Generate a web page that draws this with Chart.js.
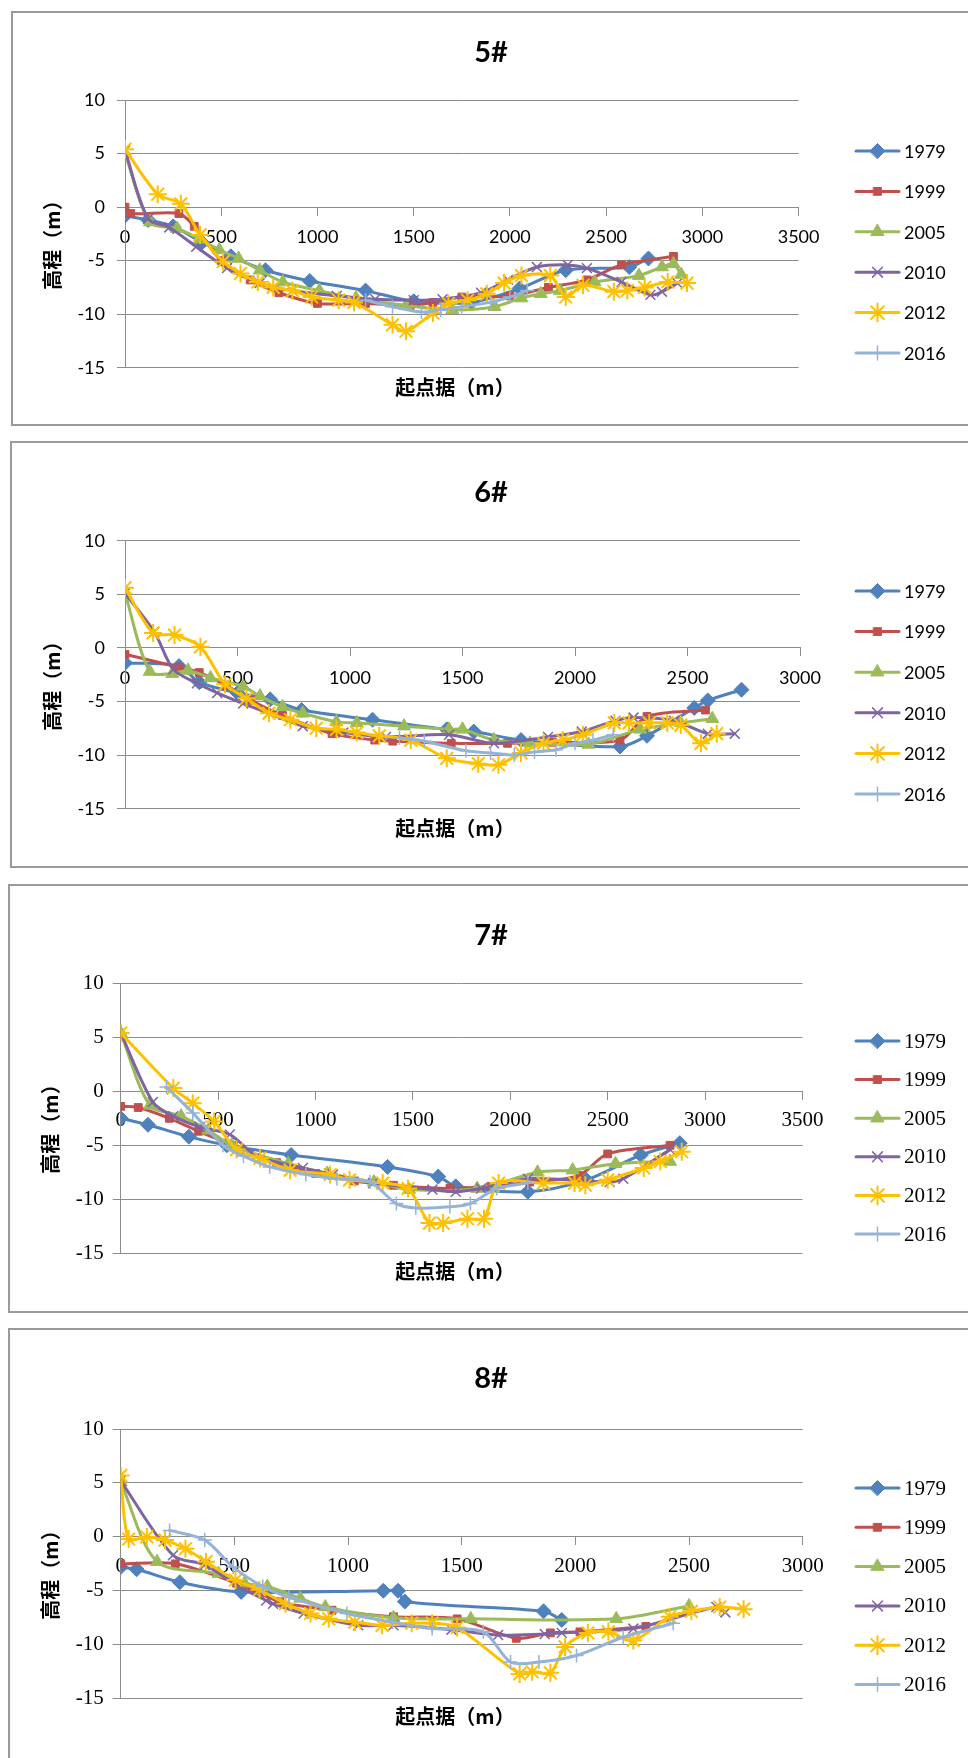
<!DOCTYPE html>
<html><head><meta charset="utf-8">
<script src="https://cdn.jsdelivr.net/npm/chart.js@4.4.1/dist/chart.umd.min.js"></script>
<style>
html,body{margin:0;padding:0;background:#fff;width:968px;height:1758px;overflow:hidden;position:relative}
.box{position:absolute;border:2px solid #9a9a9a;box-sizing:border-box;background:#fff}
canvas{position:absolute;left:0}
</style></head><body>
<script>
// ---------- DATA ----------
const years = ['1979','1999','2005','2010','2012','2016'];
const sections = ['5#','6#','7#','8#'];
const yTickValues = [10, 5, 0, -5, -10, -15];
const xTickStep = 500;
const xMaxBySection = [3500, 3000, 3500, 3000];
const yAxisTitle = '高程（m）';
const xAxisTitle = '起点据（m）';

// 5#
const s5_1979 = [[0,-0.8],[120,-1.2],[250,-1.8],[400,-3.3],[550,-4.6],[730,-5.9],[960,-6.9],[1250,-7.8],[1500,-8.8],[1800,-8.9],[2050,-7.6],[2290,-5.9],[2620,-5.6],[2720,-4.8]];
const s5_1999 = [[0,0],[30,-0.6],[280,-0.6],[360,-1.8],[500,-5.0],[650,-6.8],[800,-8.0],[1000,-9.0],[1250,-9.0],[1480,-9.2],[1600,-8.9],[1750,-8.4],[2000,-8.3],[2200,-7.5],[2400,-6.8],[2580,-5.4],[2850,-4.6]];
const s5_2005 = [[0,5.0],[130,-1.4],[270,-2.0],[390,-3.0],[490,-4.0],[590,-4.8],[700,-5.9],[820,-7.0],[1010,-7.8],[1200,-8.5],[1460,-9.2],[1700,-9.6],[1920,-9.3],[2060,-8.5],[2160,-8.1],[2260,-7.8],[2440,-7.0],[2670,-6.4],[2790,-5.6],[2850,-5.3],[2890,-6.3]];
const s5_2010 = [[0,5.3],[120,-1.1],[230,-1.9],[370,-3.7],[530,-5.7],[700,-7.1],[870,-7.8],[1100,-8.3],[1300,-8.6],[1500,-8.7],[1650,-8.6],[1850,-8.0],[1990,-6.8],[2140,-5.6],[2300,-5.4],[2400,-5.7],[2580,-7.0],[2730,-8.2],[2790,-7.9],[2870,-7.1]];
const s5_2012 = [[0,5.4],[170,1.2],[290,0.3],[390,-2.6],[510,-5.1],[600,-6.2],[690,-7.0],[770,-7.5],[870,-7.8],[970,-8.4],[1110,-8.7],[1190,-8.9],[1390,-11.0],[1460,-11.6],[1600,-9.9],[1680,-9.0],[1780,-8.7],[1880,-8.1],[1970,-7.1],[2060,-6.4],[2210,-6.4],[2290,-8.4],[2380,-7.3],[2540,-7.9],[2610,-7.8],[2700,-7.5],[2820,-7.0],[2920,-7.1]];
const s5_2016 = [[1250,-8.7],[1390,-9.3],[1540,-9.8],[1640,-9.6],[1750,-9.3],[1900,-8.9],[2000,-8.4],[2090,-7.8]];

// 6#
const s6_1979 = [[0,-1.4],[240,-1.7],[330,-3.2],[500,-4.2],[645,-4.8],[785,-5.8],[1100,-6.7],[1430,-7.6],[1550,-7.8],[1760,-8.6],[2200,-9.2],[2320,-8.2],[2530,-5.6],[2590,-4.9],[2740,-3.9]];
const s6_1999 = [[0,-0.6],[240,-1.8],[330,-2.3],[450,-3.5],[560,-4.9],[700,-6.3],[920,-8.0],[1110,-8.6],[1190,-8.7],[1450,-8.9],[1700,-8.9],[1900,-8.8],[2200,-8.6],[2320,-6.4],[2580,-5.8]];
const s6_2005 = [[0,5.1],[110,-2.2],[210,-2.4],[280,-2.1],[380,-2.8],[525,-3.6],[600,-4.5],[700,-5.5],[790,-6.1],[940,-6.9],[1030,-7.0],[1240,-7.3],[1440,-7.6],[1500,-7.6],[1640,-8.6],[1800,-8.9],[2060,-9.0],[2290,-7.6],[2470,-7.0],[2610,-6.6]];
const s6_2010 = [[0,5.1],[130,1.5],[215,-2.0],[320,-3.3],[410,-4.2],[525,-5.2],[640,-6.1],[790,-7.3],[970,-7.9],[1160,-8.3],[1440,-8.1],[1640,-8.9],[1880,-8.3],[2030,-7.8],[2180,-6.8],[2260,-6.5],[2440,-6.8],[2590,-8.0],[2710,-8.0]];
const s6_2012 = [[0,5.6],[125,1.4],[220,1.2],[335,0.1],[445,-3.4],[540,-4.7],[640,-6.1],[735,-6.7],[850,-7.5],[940,-7.6],[1030,-7.9],[1130,-8.2],[1270,-8.6],[1430,-10.3],[1570,-10.8],[1660,-10.9],[1760,-9.8],[1860,-8.9],[1945,-8.6],[2035,-8.1],[2175,-7.0],[2240,-7.0],[2330,-7.0],[2410,-7.0],[2470,-7.2],[2560,-8.9],[2630,-8.0]];
const s6_2016 = [[1220,-8.4],[1330,-8.7],[1515,-9.6],[1625,-9.8],[1730,-10.0],[1820,-9.7],[1915,-9.5],[2000,-8.9],[2080,-8.6],[2170,-8.1]];

// 7#
const s7_1979 = [[0,-2.5],[140,-3.1],[350,-4.2],[545,-5.0],[875,-5.9],[1370,-7.0],[1630,-7.9],[1720,-8.8],[2090,-9.3],[2390,-8.2],[2670,-5.9],[2870,-4.8]];
const s7_1999 = [[0,-1.4],[90,-1.5],[250,-2.5],[400,-3.7],[580,-5.0],[800,-6.6],[1000,-7.6],[1200,-8.3],[1400,-8.7],[1690,-9.0],[1900,-8.8],[2100,-8.4],[2350,-7.8],[2500,-5.8],[2820,-5.0]];
const s7_2005 = [[0,5.4],[150,-1.3],[310,-2.3],[450,-3.6],[570,-5.0],[860,-6.7],[1060,-7.6],[1300,-8.4],[1480,-9.1],[1830,-9.0],[2140,-7.5],[2320,-7.3],[2540,-6.7],[2820,-6.5]];
const s7_2010 = [[0,5.4],[165,-1.0],[270,-2.3],[405,-3.3],[560,-4.0],[700,-6.0],[935,-7.1],[1090,-7.7],[1295,-8.5],[1600,-9.1],[1720,-9.3],[1850,-9.0],[2090,-8.1],[2510,-8.4],[2580,-8.1],[2820,-5.4]];
const s7_2012 = [[0,5.4],[270,0.3],[370,-1.1],[480,-2.8],[595,-5.4],[715,-6.2],[870,-7.3],[1075,-7.7],[1175,-8.2],[1345,-8.5],[1475,-9.0],[1585,-12.2],[1655,-12.2],[1780,-11.8],[1865,-11.8],[1940,-8.5],[2170,-8.5],[2330,-8.5],[2385,-8.7],[2500,-8.2],[2685,-7.1],[2770,-6.5],[2880,-5.6]];
const s7_2016 = [[235,0.4],[370,-2.0],[525,-5.0],[630,-6.0],[765,-7.0],[950,-7.7],[1110,-8.1],[1280,-8.4],[1415,-10.4],[1515,-10.8],[1690,-10.7],[1795,-10.4],[1930,-9.0],[2090,-8.5]];

// 8#
const s8_1979 = [[0,-2.8],[70,-3.0],[260,-4.2],[530,-5.1],[1155,-5.0],[1220,-5.0],[1250,-6.0],[1860,-6.9],[1940,-7.7]];
const s8_1999 = [[0,-2.5],[240,-2.5],[510,-4.3],[700,-6.0],[930,-6.8],[1200,-7.4],[1480,-7.6],[1740,-9.4],[1890,-8.9],[2020,-8.8],[2310,-8.3]];
const s8_2005 = [[0,5.1],[160,-2.3],[430,-3.4],[545,-4.3],[645,-4.6],[790,-5.7],[900,-6.5],[1200,-7.5],[1540,-7.6],[2180,-7.6],[2500,-6.4]];
const s8_2010 = [[0,5.2],[230,-1.7],[370,-2.6],[520,-4.6],[640,-5.9],[670,-6.2],[805,-7.1],[1045,-8.2],[1200,-8.2],[1455,-8.6],[1660,-9.1],[1865,-9.0],[1940,-8.9],[2255,-8.5],[2620,-6.5],[2660,-7.0]];
const s8_2012 = [[0,5.7],[35,-0.2],[115,0.0],[195,-0.3],[285,-1.1],[375,-2.3],[505,-4.0],[610,-4.9],[725,-6.2],[835,-7.1],[915,-7.6],[1030,-7.9],[1150,-8.2],[1280,-8.0],[1370,-8.0],[1480,-8.4],[1755,-12.7],[1810,-12.5],[1890,-12.6],[1955,-10.2],[2055,-8.9],[2145,-8.8],[2255,-9.6],[2415,-7.4],[2510,-6.9],[2635,-6.5],[2740,-6.7]];
const s8_2016 = [[215,0.6],[370,-0.3],[495,-2.8],[625,-4.6],[740,-5.6],[995,-7.1],[1195,-7.9],[1370,-8.5],[1595,-8.8],[1715,-11.6],[1840,-11.6],[2005,-11.0],[2210,-9.3],[2430,-8.0]];

const seriesBySection = [
  [s5_1979, s5_1999, s5_2005, s5_2010, s5_2012, s5_2016],
  [s6_1979, s6_1999, s6_2005, s6_2010, s6_2012, s6_2016],
  [s7_1979, s7_1999, s7_2005, s7_2010, s7_2012, s7_2016],
  [s8_1979, s8_1999, s8_2005, s8_2010, s8_2012, s8_2016]
];

// ---------- STYLE ----------
const colors = ['#4F81BD','#C0504D','#9BBB59','#8064A2','#FFC000','#95B3D7'];
const pStyles = ['rectRot','rect','triangle','crossRot','star','cross'];
const pRadius = [7.5, 5.5, 7.5, 7, 9, 7];
const pBorder = [1, 1, 1, 1.5, 2, 1.5];

const panels = [
  {box:{left:11,top:11,bottom:426}, plot:{x0:125,x1:798.6,y0:100,y1:367.7}, titleY:53, xTitleY:387, yTitleX:52, yTitleY:240, legendY:151, legendStep:40.4, font:'Lato', tick:18, legend:18, yPad:12, xPad:11},
  {box:{left:10,top:441,bottom:868}, plot:{x0:125,x1:800,y0:540.7,y1:808.7}, titleY:493, xTitleY:828, yTitleX:52, yTitleY:681, legendY:591, legendStep:40.6, font:'Lato', tick:18, legend:18, yPad:12, xPad:11},
  {box:{left:8,top:884,bottom:1313}, plot:{x0:120.7,x1:802.5,y0:983.3,y1:1253.3}, titleY:936, xTitleY:1271, yTitleX:50, yTitleY:1124, legendY:1041, legendStep:38.6, font:'"Liberation Serif"', tick:21, legend:21, yPad:9, xPad:9},
  {box:{left:8,top:1328,bottom:1800}, plot:{x0:120.7,x1:802.7,y0:1429,y1:1698.7}, titleY:1379, xTitleY:1716, yTitleX:50, yTitleY:1570, legendY:1488, legendStep:39.3, font:'"Liberation Serif"', tick:21, legend:21, yPad:9, xPad:9}
];

const decor = {
  id: 'decor',
  afterDraw(chart, args, o) {
    const ctx = chart.ctx;
    const off = o.offsetY;
    ctx.save();
    ctx.fillStyle = '#000';
    ctx.textAlign = 'center';
    ctx.textBaseline = 'middle';
    ctx.font = 'bold 29px Lato';
    ctx.fillText(o.title, 491, o.titleY - off);
    ctx.font = 'bold 20px "Noto Sans CJK SC"';
    ctx.fillText(o.xTitle, 455, o.xTitleY - off);
    ctx.save();
    ctx.translate(o.yTitleX, o.yTitleY - off);
    ctx.rotate(-Math.PI / 2);
    ctx.fillText(o.yTitle, 0, 0);
    ctx.restore();
    // legend
    chart.data.datasets.forEach((ds, k) => {
      const y = o.legendY - off + k * o.legendStep;
      ctx.save();
      ctx.strokeStyle = ds.borderColor;
      ctx.lineWidth = ds.borderWidth;
      ctx.lineCap = 'round';
      ctx.beginPath(); ctx.moveTo(856, y); ctx.lineTo(899, y); ctx.stroke();
      ctx.fillStyle = ds.pointBackgroundColor;
      ctx.strokeStyle = ds.pointBorderColor;
      ctx.lineWidth = ds.pointBorderWidth;
      Chart.helpers.drawPoint(ctx, {pointStyle: ds.pointStyle, radius: ds.pointRadius, borderWidth: ds.pointBorderWidth, rotation: 0}, 877.5, y);
      ctx.restore();
      ctx.fillStyle = '#000';
      ctx.textAlign = 'left';
      ctx.font = o.legendSize + 'px ' + o.font;
      ctx.fillText(ds.label, 904, y + 1);
    });
    ctx.restore();
  }
};

panels.forEach((g, i) => {
  const box = document.createElement('div');
  box.className = 'box';
  box.style.left = g.box.left + 'px';
  box.style.top = g.box.top + 'px';
  box.style.width = (990 - g.box.left) + 'px';
  box.style.height = (g.box.bottom - g.box.top) + 'px';
  document.body.appendChild(box);

  const top = g.box.top;
  const H = Math.min(g.box.bottom, 1758) - top;
  const cv = document.createElement('canvas');
  cv.width = 968; cv.height = H;
  cv.style.top = top + 'px';
  cv.style.width = '968px'; cv.style.height = H + 'px';
  document.body.appendChild(cv);

  const datasets = years.map((yr, k) => ({
    label: yr,
    data: seriesBySection[i][k].map(p => ({x: p[0], y: p[1]})),
    borderColor: colors[k],
    backgroundColor: colors[k],
    pointBackgroundColor: colors[k],
    pointBorderColor: colors[k],
    pointStyle: pStyles[k],
    pointRadius: pRadius[k],
    pointBorderWidth: pBorder[k],
    borderWidth: 3,
    borderCapStyle: 'round',
    borderJoinStyle: 'round',
    tension: 0.3,
    fill: false,
    order: 5 - k
  }));

  const tickFont = {family: g.font.replace(/"/g,''), size: g.tick};
  new Chart(cv, {
    type: 'line',
    data: {datasets},
    options: {
      responsive: false,
      animation: false,
      devicePixelRatio: 1,
      layout: {padding: {left: 0, right: 968 - g.plot.x1, top: g.plot.y0 - top, bottom: H - (g.plot.y1 - top)}},
      plugins: {
        legend: {display: false},
        tooltip: {enabled: false},
        title: {display: false},
        decor: {offsetY: top, title: sections[i], xTitle: xAxisTitle, yTitle: yAxisTitle,
                titleY: g.titleY, xTitleY: g.xTitleY, yTitleX: g.yTitleX, yTitleY: g.yTitleY,
                legendY: g.legendY, legendStep: g.legendStep, font: g.font, legendSize: g.legend}
      },
      scales: {
        x: {
          type: 'linear', min: 0, max: xMaxBySection[i],
          position: {y: 0},
          ticks: {stepSize: xTickStep, font: tickFont, color: '#000', padding: g.xPad, autoSkip: false, maxRotation: 0,
                  callback: v => String(v)},
          grid: {drawOnChartArea: false, drawTicks: true, tickLength: 8, color: '#8c8c8c'},
          border: {color: '#8c8c8c', width: 1}
        },
        y: {
          type: 'linear', min: yTickValues[yTickValues.length - 1], max: yTickValues[0],
          afterBuildTicks: s => { s.ticks = yTickValues.map(v => ({value: v})); },
          ticks: {font: tickFont, color: '#000', padding: g.yPad, callback: v => String(v)},
          grid: {color: '#8c8c8c', tickLength: 8},
          border: {color: '#8c8c8c', width: 1},
          afterFit: s => { s.width = g.plot.x0; }
        }
      }
    },
    plugins: [decor]
  });
});
</script>
</body></html>
